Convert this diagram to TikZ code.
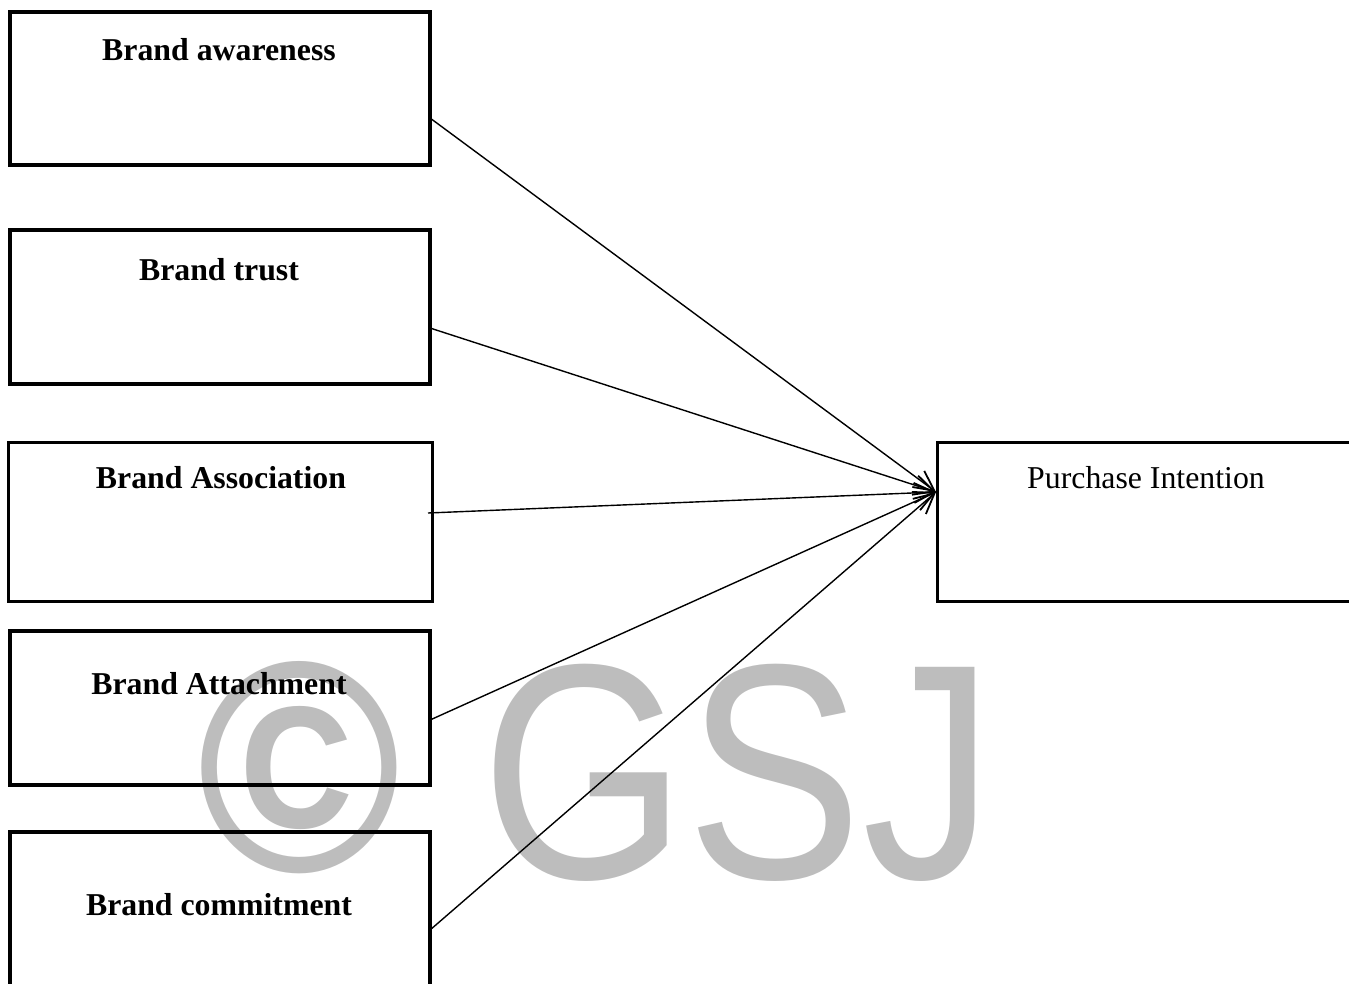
\documentclass[tikz,border=0pt]{standalone}
\usepackage{fontspec}
\usetikzlibrary{arrows.meta}
\setmainfont{Liberation Serif}
\newfontfamily\wmfont{Liberation Sans}
\begin{document}
\begin{tikzpicture}[x=1pt,y=-1pt,
  box/.style={draw=black,line width=4.5pt,rectangle,inner sep=0pt},
  thinbox/.style={draw=black,line width=3pt,rectangle,inner sep=0pt},
  lbl/.style={font=\fontsize{31.8}{36}\selectfont\bfseries,inner sep=0pt,anchor=base},
  plbl/.style={font=\fontsize{31.8}{36}\selectfont,inner sep=0pt,anchor=base},
  conn/.style={draw=black,line width=1.4pt,-{Straight Barb[length=20pt,width=20pt,line width=1.8pt]}},
  wm/.style={text=black!26,font=\wmfont\fontsize{307}{320}\selectfont,inner sep=0pt}
]
\useasboundingbox (0,0) rectangle (1349,983);
\clip (0,0) rectangle (1349,983);
% watermark
\node[wm,font=\wmfont\bfseries\fontsize{307}{320}\selectfont,xscale=0.9,yscale=0.98,anchor=center] (wmc) at (299,768) {©};
\node[wm,xscale=0.86,anchor=base west] (wmg) at (481,878) {GSJ};
% boxes
\node[box,minimum width=420pt,minimum height=153pt] (b1) at (220,88.5) {};
\node[box,minimum width=420pt,minimum height=154pt] (b2) at (220,307) {};
\node[thinbox,minimum width=424pt,minimum height=159pt] (b3) at (220,521.5) {};
\node[box,minimum width=420pt,minimum height=154pt] (b4) at (220,708) {};
\node[box,minimum width=420pt,minimum height=180pt] (b5) at (220,922) {};
\node[thinbox,minimum width=440pt,minimum height=159pt] (pi) at (1157,521.5) {};
% labels
\node[lbl] (t1) at (219,60) {Brand awareness};
\node[lbl] (t2) at (219,280) {Brand trust};
\node[lbl] (t3) at (221,488) {Brand Association};
\node[lbl] (t4) at (219,694) {Brand Attachment};
\node[lbl] (t5) at (219,915) {Brand commitment};
\node[plbl] (tp) at (1146,488) {Purchase Intention};
% connector ends
\coordinate (s1) at (430,118);
\coordinate (s2) at (430,328);
\coordinate (s3) at (428,513);
\coordinate (s4) at (430,720);
\coordinate (s5) at (430,930);
\coordinate (tgt) at (936,492);
\draw[conn] (s1) -- (tgt);
\draw[conn] (s2) -- (tgt);
\draw[conn] (s3) -- (tgt);
\draw[conn] (s4) -- (tgt);
\draw[conn] (s5) -- (tgt);
\end{tikzpicture}
\end{document}
